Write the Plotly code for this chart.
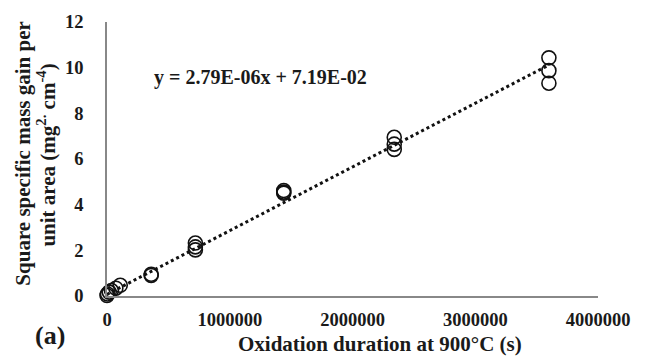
import plotly.graph_objects as go
import numpy as np

# Data (oxidation time in s, squared specific mass gain in mg^2 cm^-4)
time_s = [0, 3600, 18000, 36000, 72000, 108000,
          360000, 360000, 720000, 720000, 720000,
          1440000, 1440000, 1440000,
          2340000, 2340000, 2340000,
          3600000, 3600000, 3600000]
mass_sq = [0.02, 0.09, 0.17, 0.24, 0.34, 0.47,
           0.9, 0.95, 2.32, 2.15, 2.02,
           4.62, 4.55, 4.5,
           6.95, 6.65, 6.42,
           10.43, 9.87, 9.32]
slope = 2.79e-06
intercept = 7.19e-02
fit_x = [0, 3600000]

x_ticks = [0, 1000000, 2000000, 3000000, 4000000]
y_ticks = [0, 2, 4, 6, 8, 10, 12]

font_family = "Liberation Serif, Times New Roman, serif"
txt = "#1a1a1a"

fig = go.Figure()
fx = np.array(fit_x, dtype=float)
fig.add_trace(go.Scatter(x=fx, y=slope * fx + intercept, mode="lines",
                         line=dict(color="#111", width=3, dash="dot"),
                         showlegend=False))
fig.add_trace(go.Scatter(x=time_s, y=mass_sq, mode="markers", cliponaxis=False,
                         marker=dict(symbol="circle-open", size=14,
                                     color="#111", line=dict(width=1.6, color="#111")),
                         showlegend=False))

fig.update_layout(
    width=645, height=363,
    margin=dict(l=107, r=47, t=15, b=67),
    plot_bgcolor="white", paper_bgcolor="white",
    font=dict(family=font_family, size=18, color=txt),
    xaxis=dict(range=[0, 4000000], tickvals=x_ticks,
               ticktext=["<b>%d</b>" % v for v in x_ticks],
               showgrid=False, zeroline=False, showline=True,
               linecolor="#888", linewidth=1.5,
               ticks="", ticklabelstandoff=6,
               tickfont=dict(family=font_family, size=18.5, color=txt)),
    yaxis=dict(range=[0, 12], tickvals=y_ticks,
               ticktext=["<b>%d</b>" % v for v in y_ticks],
               showgrid=False, zeroline=False, showline=True,
               linecolor="#888", linewidth=1.5,
               ticks="", ticklabelstandoff=18,
               tickfont=dict(family=font_family, size=18.5, color=txt)),
    annotations=[
        dict(text="<b>y = 2.79E-06x + 7.19E-02</b>", x=152, y=72,
             showarrow=False, xanchor="left", yanchor="middle",
             font=dict(size=20, color=txt)),
        dict(text="<b>Oxidation duration at 900°C (s)</b>", x=380, y=345,
             showarrow=False, xanchor="center", yanchor="middle",
             font=dict(size=21, color=txt)),
        dict(text="<b>Square specific mass gain per</b>", x=23, y=150,
             showarrow=False, xanchor="center", yanchor="middle", textangle=-90,
             font=dict(size=21, color=txt)),
        dict(text="<b>unit area (mg<sup>2.</sup> cm<sup>-4</sup>)</b>", x=47, y=152,
             showarrow=False, xanchor="center", yanchor="middle", textangle=-90,
             font=dict(size=21, color=txt)),
        dict(text="<b>(a)</b>", x=50, y=337,
             showarrow=False, xanchor="center", yanchor="middle",
             font=dict(size=26, color=txt)),
    ],
)

# convert pixel coordinates of annotations to paper coordinates
W, H = 645, 363
L, R, T, B = 107, 47, 15, 67
pw, ph = W - L - R, H - T - B
for a in fig.layout.annotations:
    px, py = a.x, a.y
    a.x = (px - L) / pw
    a.y = 1 - (py - T) / ph
    a.xref = "paper"
    a.yref = "paper"

fig.write_html("out.html")
